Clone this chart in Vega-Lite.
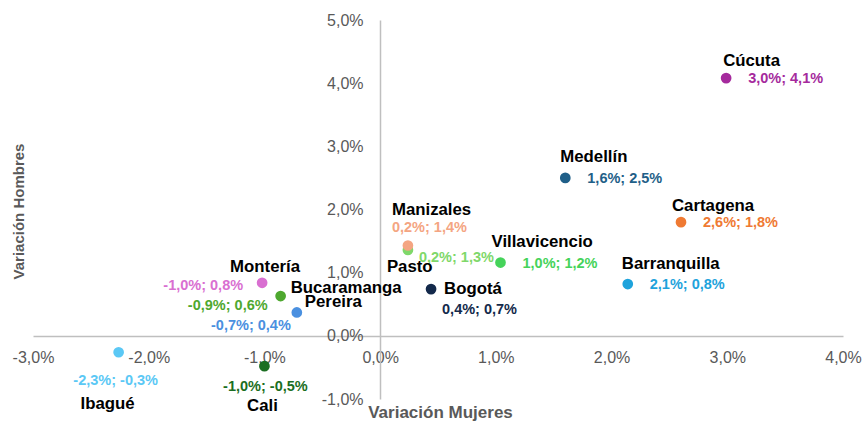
{
  "$schema": "https://vega.github.io/schema/vega-lite/v6.json",
  "width": 810,
  "height": 379,
  "autosize": {"type": "none"},
  "padding": {"left": 33, "top": 20, "right": 23, "bottom": 22},
  "background": "white",
  "config": {
    "view": {"stroke": null},
    "text": {"font": "Liberation Sans", "fontWeight": "bold", "baseline": "middle"}
  },
  "data": {
    "values": [
      {"city": "Cúcuta", "m": 2.99, "h": 4.08, "label": "3,0%; 4,1%"},
      {"city": "Medellín", "m": 1.60, "h": 2.50, "label": "1,6%; 2,5%"},
      {"city": "Cartagena", "m": 2.60, "h": 1.80, "label": "2,6%; 1,8%"},
      {"city": "Barranquilla", "m": 2.14, "h": 0.82, "label": "2,1%; 0,8%"},
      {"city": "Villavicencio", "m": 1.04, "h": 1.16, "label": "1,0%; 1,2%"},
      {"city": "Bogotá", "m": 0.44, "h": 0.74, "label": "0,4%; 0,7%"},
      {"city": "Pasto", "m": 0.24, "h": 1.36, "label": "0,2%; 1,3%"},
      {"city": "Manizales", "m": 0.24, "h": 1.43, "label": "0,2%; 1,4%"},
      {"city": "Montería", "m": -1.02, "h": 0.84, "label": "-1,0%; 0,8%"},
      {"city": "Bucaramanga", "m": -0.86, "h": 0.63, "label": "-0,9%; 0,6%"},
      {"city": "Pereira", "m": -0.72, "h": 0.37, "label": "-0,7%; 0,4%"},
      {"city": "Ibagué", "m": -2.26, "h": -0.26, "label": "-2,3%; -0,3%"},
      {"city": "Cali", "m": -1.00, "h": -0.48, "label": "-1,0%; -0,5%"}
    ]
  },
  "encoding": {
    "x": {
      "field": "m", "type": "quantitative",
      "scale": {"domain": [-3, 4], "nice": false, "zero": false},
      "axis": {
        "orient": "bottom", "offset": -63, "values": [-3, -2, -1, 0, 1, 2, 3, 4],
        "labelExpr": "replace(replace(format(datum.value, '.1f'), '.', ','), '−', '-') + '%'",
        "grid": false, "ticks": false, "domainColor": "#bfbfbf", "domainWidth": 1.5,
        "labelPadding": 13, "labelFont": "Liberation Sans", "labelFontSize": 16, "labelColor": "#595959",
        "labelBaseline": "top", "labelFlush": false, "labelOverlap": false,
        "title": "Variación Mujeres", "titleFont": "Liberation Sans", "titleFontSize": 17, "titleFontWeight": "bold",
        "titleColor": "#595959", "titleX": 407, "titleY": 76, "titleAlign": "center", "titleBaseline": "middle"
      }
    },
    "y": {
      "field": "h", "type": "quantitative",
      "scale": {"domain": [-1, 5], "nice": false, "zero": false},
      "axis": {
        "orient": "left", "offset": -347, "values": [-1, 0, 1, 2, 3, 4, 5],
        "labelExpr": "replace(replace(format(datum.value, '.1f'), '.', ','), '−', '-') + '%'",
        "grid": false, "ticks": false, "domainColor": "#bfbfbf", "domainWidth": 1.5,
        "labelPadding": 17, "labelFont": "Liberation Sans", "labelFontSize": 16, "labelColor": "#595959",
        "labelFlush": false, "labelOverlap": false,
        "title": "Variación Hombres", "titleFont": "Liberation Sans", "titleFontSize": 15, "titleFontWeight": "bold",
        "titleColor": "#595959", "titleX": -362, "titleY": 191, "titleAngle": -90, "titleAlign": "center", "titleBaseline": "middle"
      }
    },
    "color": {
      "field": "city", "type": "nominal", "legend": null,
      "scale": {
        "domain": ["Cúcuta", "Medellín", "Cartagena", "Barranquilla", "Villavicencio", "Bogotá", "Pasto", "Manizales", "Montería", "Bucaramanga", "Pereira", "Ibagué", "Cali"],
        "range": ["#a52a9d", "#1f5f88", "#ef7a33", "#1ea3dc", "#45d35a", "#13294b", "#7fd86a", "#f4a582", "#d96fd1", "#4ea82f", "#4a90e0", "#5bc8f5", "#1b6e22"]
      }
    }
  },
  "layer": [
    {"mark": {"type": "point", "filled": true, "size": 115, "opacity": 1}},

    {"transform": [{"filter": "indexof(['Cúcuta','Medellín','Cartagena','Barranquilla','Villavicencio'], datum.city) >= 0"}],
     "mark": {"type": "text", "align": "left", "dx": 22, "dy": 1, "fontSize": 14.5},
     "encoding": {"text": {"field": "label"}}},
    {"transform": [{"filter": "datum.city === 'Bogotá'"}],
     "mark": {"type": "text", "align": "left", "dx": 11, "dy": 21, "fontSize": 14.5},
     "encoding": {"text": {"field": "label"}}},
    {"transform": [{"filter": "datum.city === 'Manizales'"}],
     "mark": {"type": "text", "align": "left", "dx": -16, "dy": -18, "fontSize": 14.5},
     "encoding": {"text": {"field": "label"}}},
    {"transform": [{"filter": "datum.city === 'Pasto'"}],
     "mark": {"type": "text", "align": "left", "dx": 11, "dy": 8, "fontSize": 14.5},
     "encoding": {"text": {"field": "label"}}},
    {"transform": [{"filter": "datum.city === 'Montería'"}],
     "mark": {"type": "text", "align": "right", "dx": -19, "dy": 3, "fontSize": 14.5},
     "encoding": {"text": {"field": "label"}}},
    {"transform": [{"filter": "datum.city === 'Bucaramanga'"}],
     "mark": {"type": "text", "align": "right", "dx": -13, "dy": 10, "fontSize": 14.5},
     "encoding": {"text": {"field": "label"}}},
    {"transform": [{"filter": "datum.city === 'Pereira'"}],
     "mark": {"type": "text", "align": "right", "dx": -6, "dy": 14, "fontSize": 14.5},
     "encoding": {"text": {"field": "label"}}},
    {"transform": [{"filter": "datum.city === 'Ibagué'"}],
     "mark": {"type": "text", "align": "center", "dx": -3, "dy": 29, "fontSize": 14.5},
     "encoding": {"text": {"field": "label"}}},
    {"transform": [{"filter": "datum.city === 'Cali'"}],
     "mark": {"type": "text", "align": "center", "dx": 1, "dy": 21, "fontSize": 14.5},
     "encoding": {"text": {"field": "label"}}},

    {"transform": [{"filter": "datum.city === 'Cúcuta'"}],
     "mark": {"type": "text", "align": "left", "dx": -3, "dy": -17, "fontSize": 16.8},
     "encoding": {"text": {"field": "city"}, "color": {"value": "#000000"}}},
    {"transform": [{"filter": "datum.city === 'Medellín'"}],
     "mark": {"type": "text", "align": "left", "dx": -5, "dy": -21, "fontSize": 16.8},
     "encoding": {"text": {"field": "city"}, "color": {"value": "#000000"}}},
    {"transform": [{"filter": "datum.city === 'Cartagena'"}],
     "mark": {"type": "text", "align": "left", "dx": -9, "dy": -16, "fontSize": 16.8},
     "encoding": {"text": {"field": "city"}, "color": {"value": "#000000"}}},
    {"transform": [{"filter": "datum.city === 'Barranquilla'"}],
     "mark": {"type": "text", "align": "left", "dx": -6, "dy": -20, "fontSize": 16.8},
     "encoding": {"text": {"field": "city"}, "color": {"value": "#000000"}}},
    {"transform": [{"filter": "datum.city === 'Villavicencio'"}],
     "mark": {"type": "text", "align": "left", "dx": -9, "dy": -21, "fontSize": 16.8},
     "encoding": {"text": {"field": "city"}, "color": {"value": "#000000"}}},
    {"transform": [{"filter": "datum.city === 'Bogotá'"}],
     "mark": {"type": "text", "align": "left", "dx": 13, "dy": 0, "fontSize": 16.8},
     "encoding": {"text": {"field": "city"}, "color": {"value": "#000000"}}},
    {"transform": [{"filter": "datum.city === 'Manizales'"}],
     "mark": {"type": "text", "align": "left", "dx": -16, "dy": -36, "fontSize": 16.8},
     "encoding": {"text": {"field": "city"}, "color": {"value": "#000000"}}},
    {"transform": [{"filter": "datum.city === 'Pasto'"}],
     "mark": {"type": "text", "align": "left", "dx": -21, "dy": 17, "fontSize": 16.8},
     "encoding": {"text": {"field": "city"}, "color": {"value": "#000000"}}},
    {"transform": [{"filter": "datum.city === 'Montería'"}],
     "mark": {"type": "text", "align": "left", "dx": -32, "dy": -16, "fontSize": 16.8},
     "encoding": {"text": {"field": "city"}, "color": {"value": "#000000"}}},
    {"transform": [{"filter": "datum.city === 'Bucaramanga'"}],
     "mark": {"type": "text", "align": "left", "dx": 10, "dy": -8, "fontSize": 16.8},
     "encoding": {"text": {"field": "city"}, "color": {"value": "#000000"}}},
    {"transform": [{"filter": "datum.city === 'Pereira'"}],
     "mark": {"type": "text", "align": "left", "dx": 8, "dy": -10, "fontSize": 16.8},
     "encoding": {"text": {"field": "city"}, "color": {"value": "#000000"}}},
    {"transform": [{"filter": "datum.city === 'Ibagué'"}],
     "mark": {"type": "text", "align": "center", "dx": -11, "dy": 52, "fontSize": 16.8},
     "encoding": {"text": {"field": "city"}, "color": {"value": "#000000"}}},
    {"transform": [{"filter": "datum.city === 'Cali'"}],
     "mark": {"type": "text", "align": "center", "dx": -2, "dy": 40, "fontSize": 16.8},
     "encoding": {"text": {"field": "city"}, "color": {"value": "#000000"}}}
  ]
}
